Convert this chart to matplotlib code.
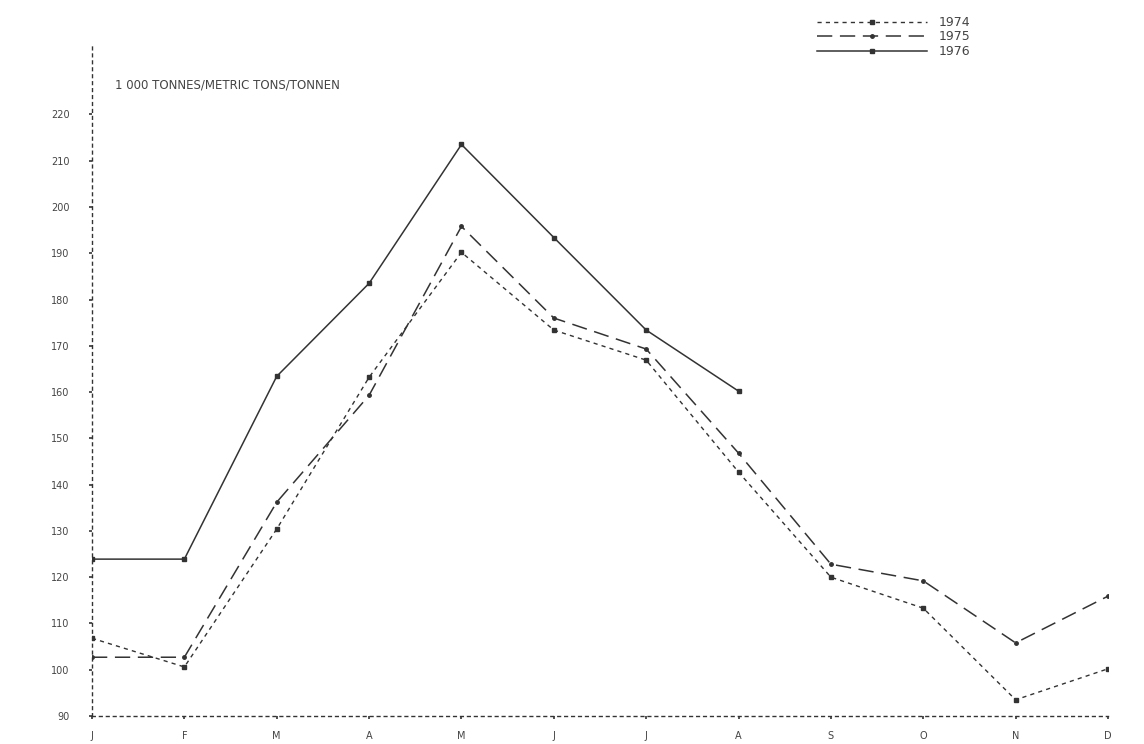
import matplotlib
matplotlib.use("Agg")
import matplotlib.pyplot as plt

months = ["J", "F", "M", "A", "M", "J", "J", "A", "S", "O", "N", "D"]
y_ticks = [90, 100, 110, 120, 130, 140, 150, 160, 170, 180, 190, 200, 210, 220]
s1974 = [106.8, 100.6, 130.4, 163.2, 190.2, 173.4, 166.9, 142.7, 120.0, 113.3, 93.5, 100.2]
s1975 = [102.7, 102.7, 136.2, 159.3, 195.8, 176.0, 169.3, 146.8, 122.8, 119.2, 105.8, 115.9]
s1976 = [123.9, 123.9, 163.4, 183.5, 213.5, 193.4, 173.4, 160.2]
unit_label = "1 000 TONNES/METRIC TONS/TONNEN"

ink = "#333333"
fig = plt.figure(figsize=(11.44, 7.44), dpi=100)
fig.patch.set_facecolor("white")
ax = fig.add_axes([92/1144, 28/744, (1108-92)/1144, (716-45)/744])
ax.set_facecolor("white")

x = list(range(len(months)))
ax.plot(x, s1974, color=ink, lw=1.0, dashes=(3, 3), marker="s", ms=3, label="1974")
ax.plot(x, s1975, color=ink, lw=1.1, dashes=(10, 5), marker="o", ms=2.5, label="1975")
ax.plot(x[:len(s1976)], s1976, color=ink, lw=1.1, ls="-", marker="s", ms=3, label="1976")

ax.set_xlim(0, 11)
ax.set_ylim(90, 235)
ax.set_xticks(x)
ax.set_xticklabels(months, fontsize=7, color="#444444")
ax.set_yticks(y_ticks)
ax.set_yticklabels([str(v) for v in y_ticks], fontsize=7, color="#444444")
ax.tick_params(axis="x", length=2, width=1.2, color=ink, pad=9)
ax.tick_params(axis="y", length=2, width=1.2, color=ink, pad=14)

for side in ["top", "right"]:
    ax.spines[side].set_visible(False)
for side in ["left", "bottom"]:
    ax.spines[side].set_linestyle((0, (2, 3)))
    ax.spines[side].set_linewidth(1.0)
    ax.spines[side].set_color(ink)

fig.text(115/1144, 1 - 85/744, unit_label, fontsize=8.5, color="#444444",
         ha="left", va="center")

leg = fig.legend(loc="upper left", bbox_to_anchor=(812/1144, 1 - 11/744),
                 frameon=False, fontsize=9, handlelength=8.8, handletextpad=0.9,
                 labelspacing=0.12, numpoints=1, borderaxespad=0)
for t in leg.get_texts():
    t.set_color("#444444")

fig.savefig("out.png", dpi=100)
